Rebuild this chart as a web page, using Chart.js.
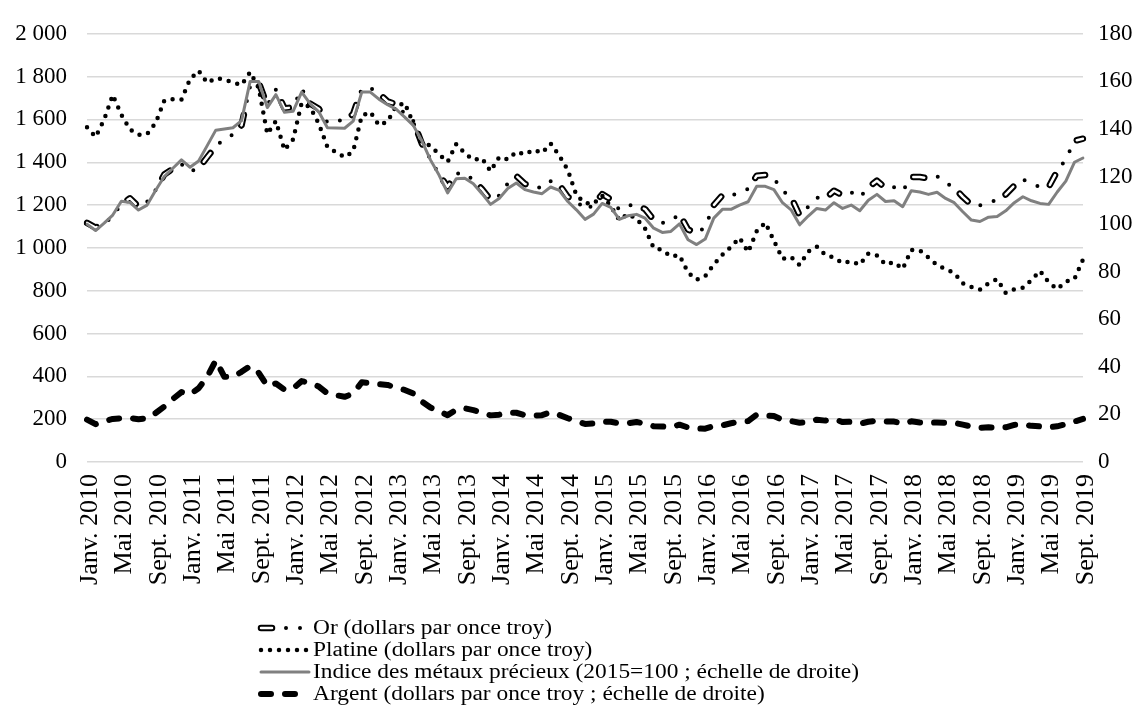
<!DOCTYPE html>
<html lang="fr">
<head>
<meta charset="utf-8">
<title>Prix des métaux précieux</title>
<script src="https://cdn.jsdelivr.net/npm/chart.js@4"></script>
<style>
  html, body { margin: 0; padding: 0; background: #fff; }
  #cadre { width: 1141px; height: 720px; }
</style>
</head>
<body>
<div id="cadre"><canvas id="graphique" width="1141" height="720"></canvas></div>
<script>
// Mois : janvier 2010 à septembre 2019
const moisCourts = ["Janv.", "Févr.", "Mars", "Avr.", "Mai", "Juin", "Juil.", "Août", "Sept.", "Oct.", "Nov.", "Déc."];
const mois = [];
for (let a = 2010; a <= 2019; a++) {
  for (let m = 0; m < 12; m++) {
    if (a === 2019 && m > 8) break;
    mois.push(moisCourts[m] + " " + a);
  }
}

// Or (dollars par once troy)
const or = [
  1117, 1095, 1113, 1148, 1205, 1232, 1193, 1215, 1271, 1343, 1370, 1391,
  1356, 1372, 1424, 1474, 1510, 1529, 1573, 1756, 1772, 1665, 1739, 1652,
  1656, 1743, 1674, 1650, 1585, 1596, 1594, 1626, 1744, 1747, 1722, 1684,
  1671, 1627, 1593, 1487, 1414, 1343, 1286, 1347, 1349, 1316, 1275, 1225,
  1244, 1301, 1336, 1299, 1288, 1279, 1311, 1296, 1238, 1222, 1176, 1201,
  1251, 1227, 1179, 1199, 1199, 1181, 1131, 1117, 1125, 1159, 1086, 1068,
  1097, 1200, 1246, 1243, 1260, 1276, 1337, 1341, 1326, 1267, 1238, 1152,
  1192, 1234, 1231, 1267, 1246, 1260, 1236, 1283, 1314, 1280, 1283, 1265,
  1331, 1331, 1325, 1335, 1304, 1281, 1238, 1202, 1198, 1215, 1221, 1250,
  1291, 1320, 1300, 1285, 1284, 1359, 1413, 1500, 1510
];

// Platine (dollars par once troy)
const platine = [
  1563, 1518, 1599, 1714, 1622, 1553, 1528, 1532, 1584, 1688, 1695, 1693,
  1788, 1828, 1771, 1793, 1787, 1773, 1761, 1821, 1747, 1532, 1593, 1457,
  1506, 1678, 1657, 1580, 1471, 1447, 1424, 1451, 1617, 1635, 1573, 1590,
  1662, 1677, 1582, 1492, 1477, 1437, 1402, 1485, 1442, 1411, 1419, 1358,
  1424, 1413, 1449, 1437, 1458, 1444, 1488, 1431, 1364, 1246, 1210, 1207,
  1244, 1195, 1130, 1158, 1137, 1090, 1000, 990, 960, 966, 885, 851,
  868, 923, 968, 1005, 1047, 980, 1078, 1118, 1034, 949, 958, 920,
  983, 1006, 967, 955, 929, 937, 921, 974, 965, 923, 933, 902,
  991, 988, 955, 920, 900, 883, 835, 818, 805, 835, 854, 790,
  807, 814, 850, 893, 839, 808, 843, 855, 946
];

// Indice des métaux précieux (2015=100), échelle de droite
const indice = [
  100, 97.3, 100.4, 103.8, 109.6, 109.1, 105.9, 108, 114.2, 120, 123.5, 127,
  123.9, 126.5, 133, 139.5, 140, 140.5, 143.5, 160, 160, 149, 154.4, 147,
  147.4, 155.5, 150.5, 147.2, 140.5, 140.4, 140.3, 143.3, 155.5, 155.5, 152.5, 150.2,
  148.3, 145, 141.5, 135, 127, 120.6, 113.1, 119.1, 119.3, 117, 112.8, 108.3,
  110.8, 115, 117.3, 114.5, 113.5, 112.8, 115.6, 114.2, 109.5, 106, 102, 104.2,
  108.7, 107, 102, 103.5, 104.1, 102.5, 98.3, 96.5, 96.9, 100.1, 93.4, 91.4,
  93.7, 102.5, 106.2, 106.2, 108, 109.4, 115.9, 115.9, 114.5, 109, 106, 99.7,
  103.4, 106.6, 105.9, 109, 106.6, 108, 105.6, 110, 112.5, 109.5, 109.8, 107.3,
  114, 113.5, 112.5, 113.4, 110.8, 109, 105.2, 101.7, 101.1, 102.9, 103.2, 105.6,
  109, 111.5, 109.8, 108.7, 108.3, 113.5, 118.1, 126, 127.8
];

// Argent (dollars par once troy), échelle de droite
const argent = [
  17.8, 15.9, 17.1, 18.1, 18.4, 18.5, 18.0, 18.4, 20.6, 23.3, 26.5, 29.4,
  28.4, 31.0, 35.8, 42.7, 35.8, 35.8, 37.9, 40.3, 37.5, 31.9, 33.0, 30.4,
  30.9, 34.0, 33.3, 31.7, 28.8, 28.1, 27.4, 28.7, 33.5, 33.2, 32.7, 32.4,
  31.2, 30.3, 28.8, 25.4, 22.9, 21.3, 19.7, 22.0, 22.6, 21.8, 20.8, 19.6,
  19.9, 20.8, 20.7, 19.7, 19.4, 19.7, 20.9, 19.8, 18.4, 17.2, 16.0, 16.2,
  17.0, 16.9, 16.2, 16.3, 16.8, 16.1, 15.0, 14.9, 14.7, 15.7, 14.5, 14.1,
  14.0, 15.1, 15.4, 16.3, 16.9, 17.2, 19.9, 19.6, 19.3, 17.7, 17.2, 16.5,
  16.7, 17.8, 17.4, 18.0, 16.8, 16.9, 16.1, 16.9, 17.4, 17.0, 17.0, 16.1,
  17.1, 16.6, 16.5, 16.6, 16.5, 16.5, 15.7, 14.9, 14.3, 14.6, 14.3, 14.6,
  15.6, 15.8, 15.2, 15.0, 14.6, 15.0, 15.9, 17.0, 18.1
];

// Styles de trait (une série peut en superposer plusieurs)
const series = [
  { nom: "Or (dollars par once troy)", valeurs: or, axe: "y", longueur: 42,
    traits: [
      { couleur: "#000", epaisseur: 6.5, tirets: [11, 42], decalage: 0 },
      { couleur: "#fff", epaisseur: 2.5, tirets: [11, 42], decalage: 0 },
      { couleur: "#000", epaisseur: 4, tirets: [0, 14, 0, 39], decalage: 28 }
    ] },
  { nom: "Platine (dollars par once troy)", valeurs: platine, axe: "y", longueur: 48,
    traits: [{ couleur: "#000", epaisseur: 4.5, tirets: [0, 9], decalage: 0 }] },
  { nom: "Indice des métaux précieux (2015=100 ; échelle de droite)", valeurs: indice, axe: "y2", longueur: 48,
    traits: [{ couleur: "#808080", epaisseur: 3, tirets: [], decalage: 0 }] },
  { nom: "Argent (dollars par once troy ; échelle de droite)", valeurs: argent, axe: "y2", longueur: 45,
    traits: [{ couleur: "#000", epaisseur: 6, tirets: [10, 14], decalage: 0 }] }
];

// Un jeu de données par trait, le premier trait en dessous
const jeux = [];
let ordre = 10;
series.forEach((s) => {
  s.traits.forEach((t) => {
    jeux.push({
      label: s.nom,
      data: s.valeurs,
      yAxisID: s.axe,
      borderColor: t.couleur,
      borderWidth: t.epaisseur,
      borderDash: t.tirets,
      borderDashOffset: t.decalage,
      borderCapStyle: "round",
      borderJoinStyle: "round",
      pointRadius: 0,
      fill: false,
      tension: 0,
      order: ordre--
    });
  });
});

function milliers(v) {
  return v >= 1000 ? Math.floor(v / 1000) + " " + String(v % 1000).padStart(3, "0") : String(v);
}

// Légende sous le graphique, dessinée avec les mêmes traits que les séries
const legendeBas = {
  id: "legendeBas",
  afterDraw(chart) {
    const ctx = chart.ctx;
    const xDebut = 261, xTexte = 313;
    const lignes = [628, 650, 672, 694];
    ctx.save();
    series.forEach((s, i) => {
      const y = lignes[i];
      s.traits.forEach((t) => {
        ctx.beginPath();
        ctx.strokeStyle = t.couleur;
        ctx.lineWidth = t.epaisseur;
        ctx.lineCap = "round";
        ctx.setLineDash(t.tirets);
        ctx.lineDashOffset = t.decalage;
        ctx.moveTo(xDebut, y);
        ctx.lineTo(xDebut + s.longueur, y);
        ctx.stroke();
      });
      ctx.setLineDash([]);
      ctx.save();
      ctx.translate(xTexte, y + 1);
      ctx.scale(1.17, 1);
      ctx.fillStyle = "#000";
      ctx.font = '20px "Liberation Serif"';
      ctx.textBaseline = "middle";
      ctx.textAlign = "left";
      ctx.fillText(s.nom, 0, 0);
      ctx.restore();
    });
    ctx.restore();
  }
};

Chart.defaults.font.family = '"Liberation Serif", "Times New Roman", serif';
Chart.defaults.color = "#000";

new Chart(document.getElementById("graphique").getContext("2d"), {
  type: "line",
  data: { labels: mois, datasets: jeux },
  options: {
    responsive: false,
    animation: false,
    events: [],
    layout: { padding: { top: 28, left: 0, right: 0, bottom: 0 } },
    plugins: { legend: { display: false }, tooltip: { enabled: false } },
    scales: {
      x: {
        type: "category",
        offset: false,
        grid: { display: false },
        border: { display: false },
        ticks: {
          autoSkip: false,
          minRotation: 90,
          maxRotation: 90,
          padding: 4,
          labelOffset: 3,
          font: { size: 26 },
          callback: function (v, i) {
            return i % 4 === 0 ? this.getLabelForValue(v) : null;
          }
        },
        afterFit: (s) => { s.height = 258; }
      },
      y: {
        position: "left",
        min: 0,
        max: 2000,
        grid: { color: "#d9d9d9", lineWidth: 1.5, drawTicks: false },
        border: { display: false },
        ticks: { stepSize: 200, padding: 20, font: { size: 23 }, callback: milliers },
        afterFit: (s) => { s.width = 87; }
      },
      y2: {
        position: "right",
        min: 0,
        max: 180,
        grid: { display: false, drawTicks: false },
        border: { display: false },
        ticks: { stepSize: 20, padding: 15, font: { size: 23 } },
        afterFit: (s) => { s.width = 58; }
      }
    }
  },
  plugins: [legendeBas]
});
</script>
</body>
</html>
